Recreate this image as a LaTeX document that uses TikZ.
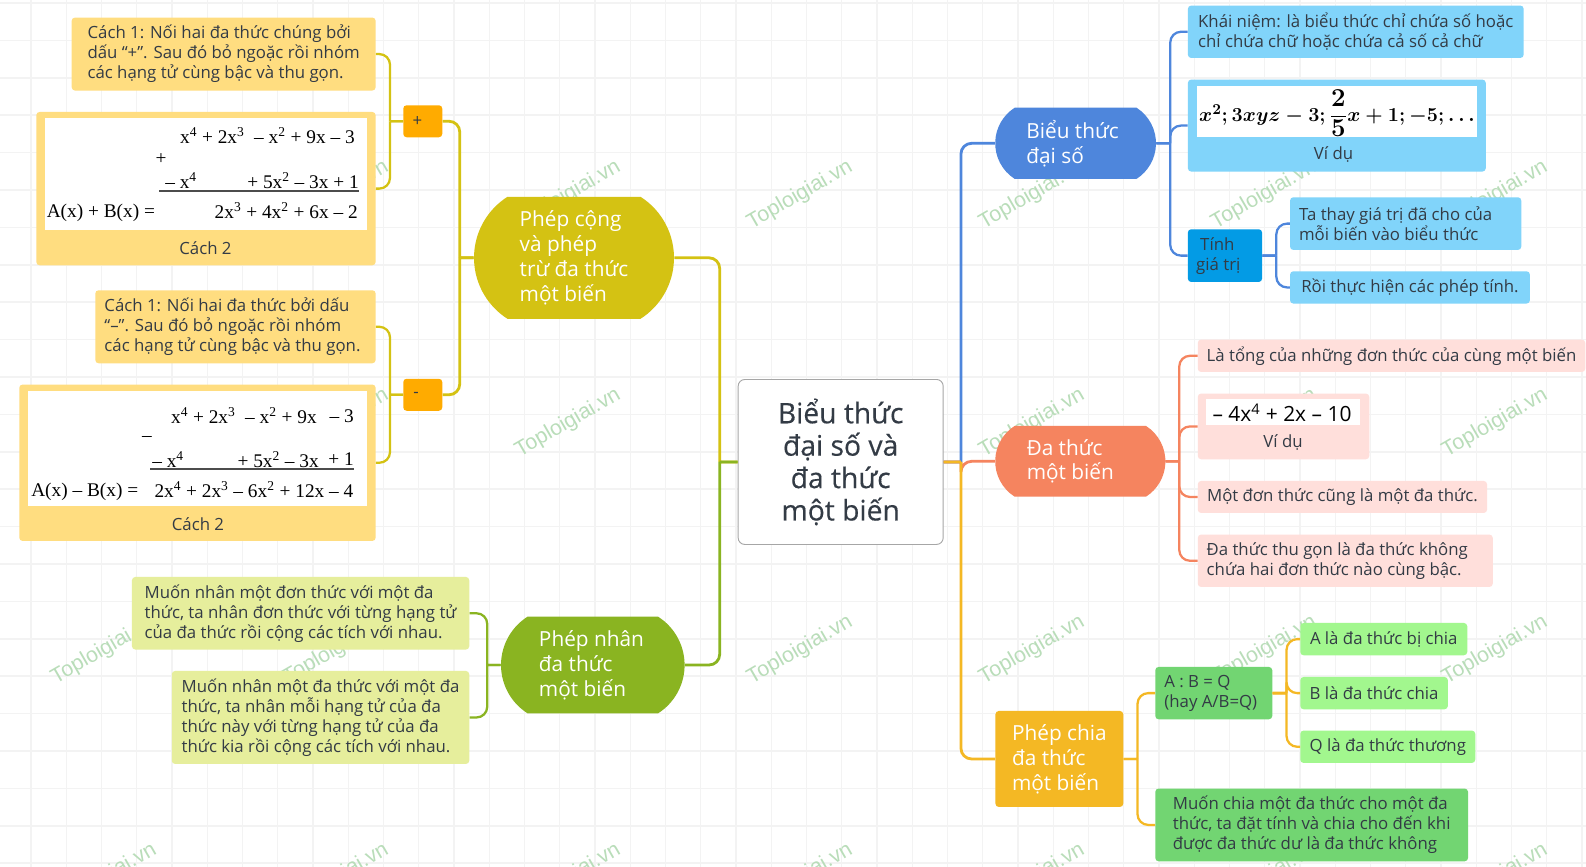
\documentclass[tikz,border=0pt]{standalone}
\usepackage{fontspec}
\setmainfont{Open Sans}
\newfontfamily\rootfont[FakeBold=0.35]{Open Sans}
\newfontfamily\eqfont{Liberation Serif}
\newfontfamily\markfont{Liberation Sans}
\usetikzlibrary{shapes.misc}
\definecolor{inkc}{HTML}{333B45}
\definecolor{gridc}{HTML}{F3F3F3}
\definecolor{markc}{HTML}{B9DDB9}
\definecolor{addc}{HTML}{D4C213}
\definecolor{addl}{HTML}{FFDD80}
\definecolor{signc}{HTML}{FFAB00}
\definecolor{mulc}{HTML}{8AB421}
\definecolor{mull}{HTML}{E6EE9C}
\definecolor{exprc}{HTML}{4E86DC}
\definecolor{exprl}{HTML}{81D4FA}
\definecolor{exprm}{HTML}{039BE5}
\definecolor{polyc}{HTML}{F5845F}
\definecolor{polyl}{HTML}{FFDFDB}
\definecolor{divc}{HTML}{F4B824}
\definecolor{divm}{HTML}{72D572}
\definecolor{divl}{HTML}{A2F78E}
\tikzset{
  sz/.style 2 args={minimum width=#1*0.75pt,minimum height=#2*0.75pt},
  leaf/.style={anchor=north west,rounded corners=2.5pt,inner sep=0pt,align=left,
    text=inkc,font=\fontsize{12.6}{15}\selectfont},
  shot/.style={anchor=north west,fill=white,inner sep=0pt},
  caption/.style={text=inkc,inner sep=0pt,font=\fontsize{12.6}{15}\selectfont},
  topic/.style={rounded rectangle,rounded rectangle arc length=115,
    inner sep=0pt,align=left,text=white,font=\fontsize{15.6}{18.7}\selectfont},
  eq/.style={inner sep=0pt,text=black,font=\eqfont\fontsize{14.5}{15}\selectfont},
  link/.style={line width=2.1pt,rounded corners=8pt},
  thin link/.style={line width=1.7pt,rounded corners=8pt},
}
\newcommand{\up}[1]{\textsuperscript{#1}}
\newcommand{\bigdigit}[1]{\scalebox{1.3}{$#1$}}
\newcommand{\exprformula}{{\boldmath$x^2;3xyz-3;{\displaystyle\frac{\bigdigit{2}}{\bigdigit{5}}}x+1;-5;\ldots$}}
\begin{document}
\begin{tikzpicture}[x=0.75pt,y=-0.75pt]
  \useasboundingbox (0,0) rectangle (1586,867);
  \fill[white] (0,0) rectangle (1586,867);
  % background grid
  \foreach \i in {0,...,44}
    \draw[gridc,line width=0.9pt] ({31+35.25*\i},0) -- ({31+35.25*\i},867);
  \foreach \i in {0,...,23}
    \draw[gridc,line width=1.2pt] (0,{3+37.4*\i}) -- (1586,{3+37.4*\i});
  % watermark
  \foreach \y [count=\r] in {195,423,650,878}
    \foreach \x [count=\k] in {104,336,568,800,1032,1264,1495}
      \node[rotate=30,text=markc,inner sep=0pt,font=\markfont\fontsize{16}{16}\selectfont]
        (mark\r\k) at (\x,\y) {Toploigiai.vn};

  % root
  \node[anchor=north west,sz={205}{165},draw=black!35,fill=white,rounded corners=5pt,line width=0.7pt,
    inner sep=0pt,align=center,text=inkc,font=\rootfont\fontsize{21.2}{24.3}\selectfont]
    (root) at (737.7,379) {Biểu thức\\đại số và\\đa thức\\một biến};

  % left side
  \node[topic,fill=addc,sz={200}{122}] (add) at (574,257.8) {Phép cộng\\và phép\\trừ đa thức\hspace*{3pt}\\một biến};
  \node[leaf,fill=signc,sz={39}{32}] (plus) at (403,105) {\hspace*{-8pt}+};
  \node[leaf,fill=signc,sz={39}{32}] (minus) at (403,378.5) {\hspace*{-10pt}-};
  \node[leaf,fill=addl,sz={304}{73}] (addone) at (71.4,17.3)
    {Cách 1: Nối hai đa thức chúng bởi\\dấu “+”. Sau đó bỏ ngoặc rồi nhóm\hspace*{7.5pt}\\các hạng tử cùng bậc và thu gọn.};
  \node[leaf,fill=addl,sz={339.4}{153.3}] (addtwo) at (36,111.7) {};
  \node[leaf,fill=addl,sz={280.4}{73}] (subone) at (95,290)
    {Cách 1: Nối hai đa thức bởi dấu\\“–”. Sau đó bỏ ngoặc rồi nhóm\\các hạng tử cùng bậc và thu gọn.\hspace*{4.5pt}};
  \node[leaf,fill=addl,sz={356.4}{156.4}] (subtwo) at (19,384.3) {};
  \node[topic,fill=mulc,sz={183.6}{96.6}] (mul) at (592.8,665) {Phép nhân\hspace*{2pt}\\đa thức\\một biến};
  \node[leaf,fill=mull,sz={337.3}{72.6}] (mulone) at (131.7,576.7)
    {Muốn nhân một đơn thức với một đa\\thức, ta nhân đơn thức với từng hạng tử\hspace*{6pt}\\của đa thức rồi cộng các tích với nhau.};
  \node[leaf,fill=mull,sz={297.5}{93}] (multwo) at (171.5,670.7)
    {Muốn nhân một đa thức với một đa\\thức, ta nhân mỗi hạng tử của đa\\thức này với từng hạng tử của đa\\thức kia rồi cộng các tích với nhau.};

  % sum worked out
  \node[shot,sz={321.5}{112.3}] (addpic) at (45,117.7) {};
  \node[eq,anchor=east] (addlineone) at (355,136) {x\up{4} + 2x\up{3}\ \ – x\up{2} + 9x – 3};
  \node[eq] (addsign) at (161,159) {+};
  \node[eq,anchor=west] (addlinetwoa) at (165,181) {– x\up{4}};
  \node[eq,anchor=east] (addlinetwob) at (359,181) {+ 5x\up{2} – 3x + 1};
  \node[eq,anchor=west] (addname) at (46.5,212.5) {A(x) + B(x) =};
  \node[eq,anchor=east] (addres) at (358,211) {2x\up{3} + 4x\up{2} + 6x – 2};
  \coordinate (addrulea) at (159,191);
  \coordinate (addruleb) at (359,191);
  \draw[black!70,line width=1pt] (addrulea) -- (addruleb);
  \node[caption] (addcap) at (205.5,248) {Cách 2};

  % difference worked out
  \node[shot,sz={338.5}{115.3}] (subpic) at (28,390.7) {};
  \node[eq,anchor=east] (sublineonea) at (317,416) {x\up{4} + 2x\up{3}\ \ – x\up{2} + 9x};
  \node[eq,anchor=east] (sublineoneb) at (354,416) {– 3};
  \node[eq] (subsign) at (147,438.7) {–};
  \node[eq,anchor=west] (sublinetwoa) at (152,459.3) {– x\up{4}};
  \node[eq,anchor=east] (sublinetwob) at (319,459.3) {+ 5x\up{2} – 3x};
  \node[eq,anchor=east] (sublinetwoc) at (354,459.3) {+ 1};
  \node[eq,anchor=west] (subname) at (31,492) {A(x) – B(x) =};
  \node[eq,anchor=east] (subres) at (353.6,490) {2x\up{4} + 2x\up{3} – 6x\up{2} + 12x – 4};
  \coordinate (subrulea) at (150.4,469);
  \coordinate (subruleb) at (354,469);
  \draw[black!70,line width=1pt] (subrulea) -- (subruleb);
  \node[caption] (subcap) at (198,524) {Cách 2};

  % right side
  \node[topic,fill=exprc,sz={160.8}{71.3}] (expr) at (1075.6,143.3) {Biểu thức\hspace*{4.5pt}\\đại số};
  \node[leaf,fill=exprl,sz={335.8}{52.4}] (exprdef) at (1187.6,5.3)
    {Khái niệm: là biểu thức chỉ chứa số hoặc\\chỉ chứa chữ hoặc chứa cả số cả chữ};
  \node[leaf,fill=exprl,sz={297.9}{92}] (exprex) at (1187.6,79.3) {};
  \node[shot,sz={279.5}{51.7}] (exprpic) at (1197,85.3) {};
  \node[inner sep=0pt,font=\fontsize{15.5}{15.5}\selectfont] (exprmath) at (1337,113) {\scalebox{1.035}{\exprformula}};
  \node[caption] (exprcap) at (1333.5,154.3) {Ví dụ};
  \node[leaf,fill=exprm,sz={74.2}{52.7}] (value) at (1187.6,229)
    {\hspace*{3pt}Tính\\giá trị\hspace*{10pt}};
  \node[leaf,fill=exprl,sz={231.2}{52.7}] (valueone) at (1289.8,197)
    {Ta thay giá trị đã cho của\hspace*{15pt}\\mỗi biến vào biểu thức};
  \node[leaf,fill=exprl,sz={239.8}{32.3}] (valuetwo) at (1289.8,271)
    {Rồi thực hiện các phép tính.};

  \node[topic,fill=polyc,sz={170.2}{70.7}] (poly) at (1080.3,461.3) {Đa thức\\một biến\hspace*{15pt}};
  \node[leaf,fill=polyl,sz={387.5}{32.4}] (polydef) at (1197.5,339.3)
    {Là tổng của những đơn thức của cùng một biến};
  \node[leaf,fill=polyl,sz={171.5}{65.7}] (polyex) at (1197.5,393.3) {};
  \node[shot,sz={154}{25.7}] (polypic) at (1206,399) {};
  \node[inner sep=0pt,text=black,font=\fontsize{15.7}{15.7}\selectfont] (polymath) at (1282,413)
    {– 4x\up{4} + 2x – 10};
  \node[caption] (polycap) at (1283,442.7) {Ví dụ};
  \node[leaf,fill=polyl,sz={289.3}{32}] (polymono) at (1197.5,480.7)
    {Một đơn thức cũng là một đa thức.};
  \node[leaf,fill=polyl,sz={295}{52.4}] (polyred) at (1197.5,534.3)
    {Đa thức thu gọn là đa thức không\hspace*{12pt}\\chứa hai đơn thức nào cùng bậc.};

  \node[anchor=north west,fill=divc,sz={127.8}{96},rounded corners=2.5pt,inner sep=0pt,align=left,
    text=white,font=\fontsize{15.6}{18.7}\selectfont] (div) at (995.2,710.7) {Phép chia\\đa thức\\một biến};
  \node[leaf,fill=divm,sz={117}{52.3}] (divform) at (1155,666.7) {A : B = Q\\(hay A/B=Q)\hspace*{4.5pt}};
  \node[leaf,fill=divl,sz={167}{32.3}] (diva) at (1300,622.7) {A là đa thức bị chia};
  \node[leaf,fill=divl,sz={147.6}{32.3}] (divb) at (1300,676.7) {B là đa thức chia};
  \node[leaf,fill=divl,sz={175}{32.4}] (divq) at (1300,730.3) {Q là đa thức thương};
  \node[leaf,fill=divm,sz={312.8}{72.7}] (divrule) at (1155,788.3)
    {Muốn chia một đa thức cho một đa\\thức, ta đặt tính và chia cho đến khi\hspace*{12pt}\\được đa thức dư là đa thức không};

  % connectors
  \foreach \kid/\col in {expr/exprc,poly/polyc,div/divc}
    \draw[link,\col] (root.east) -- ++(17.3,0) ++(0,0) |- (\kid.west);
  \draw[link,divc] (root.east) -- ++(17.3,0);
  \foreach \kid/\col in {add/addc,mul/mulc}
    \draw[link,\col] (root.west) -- ++(-18,0) ++(0,0) |- (\kid.east);
  \foreach \kid in {plus,minus}
    \draw[link,addc] (add.west) -- ++(-14,0) ++(0,0) |- (\kid.east);
  \foreach \kid in {addone,addtwo}
    \draw[thin link,addc] (plus.west) -- ++(-13,0) ++(0,0) |- (\kid.east);
  \foreach \kid in {subone,subtwo}
    \draw[thin link,addc] (minus.west) -- ++(-13,0) ++(0,0) |- (\kid.east);
  \foreach \kid in {mulone,multwo}
    \draw[thin link,mulc] (mul.west) -- ++(-13.5,0) ++(0,0) |- (\kid.east);
  \foreach \kid in {exprdef,exprex,value}
    \draw[thin link,exprc] (expr.east) -- ++(14,0) ++(0,0) |- (\kid.west);
  \foreach \kid in {valueone,valuetwo}
    \draw[thin link,exprc] (value.east) -- ++(14,0) ++(0,0) |- (\kid.west);
  \foreach \kid in {polydef,polyex,polymono,polyred}
    \draw[thin link,polyc] (poly.east) -- ++(13.6,0) ++(0,0) |- (\kid.west);
  \foreach \kid in {divform,divrule}
    \draw[thin link,divc] (div.east) -- ++(14,0) ++(0,0) |- (\kid.west);
  \foreach \kid in {diva,divb,divq}
    \draw[thin link,divc] (divform.east) -- ++(14,0) ++(0,0) |- (\kid.west);
\end{tikzpicture}
\end{document}
